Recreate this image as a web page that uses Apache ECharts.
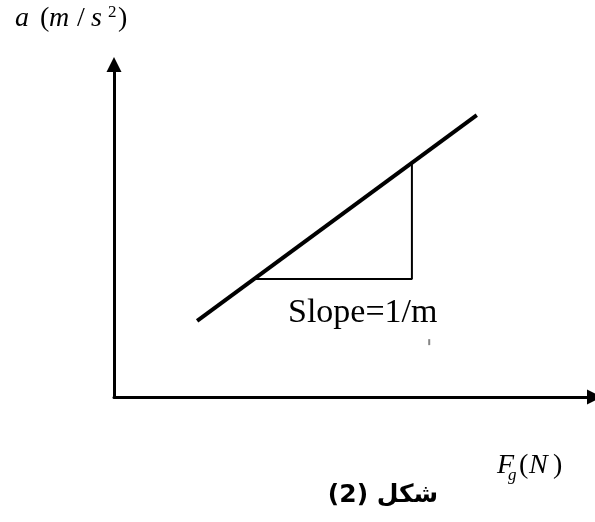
<!DOCTYPE html>
<html>
<head>
<meta charset="utf-8">
<script src="https://cdn.jsdelivr.net/npm/echarts@6/dist/echarts.min.js"></script>
<style>html,body{margin:0;padding:0;background:#fff}#c{width:595px;height:522px}</style>
</head>
<body>
<div id="c"></div>
<script>
// Conceptual data (axes without ticks, 0..10 units)
const lineX = [1.73, 7.55];
const lineY = [2.29, 8.48];
const triX = [2.92, 6.20, 6.20];
const triY = [3.55, 3.55, 7.04];
const markX = [6.56];
const markY = [1.65];
const slopeText = 'Slope=1/m';
const figCaption = '(2) شكل';

const chart = echarts.init(document.getElementById('c'), null, {renderer: 'canvas'});
const serif = '"Liberation Serif", "Times New Roman", serif';
function txt(s, x, y, size, italic, extra) {
  return Object.assign({
    type: 'text', x: x, y: y, silent: true,
    style: {text: s, fill: '#000', font: (italic ? 'italic ' : '') + size + 'px ' + serif,
            textAlign: 'left', textVerticalAlign: 'middle'}
  }, extra || {});
}
chart.setOption({
  animation: false,
  backgroundColor: '#fff',
  grid: {left: 114, right: 0.5, top: 64.5, bottom: 125, containLabel: false, outerBoundsMode: 'none'},
  xAxis: {
    type: 'value', min: 0, max: 10,
    axisLine: {show: true, symbol: ['none', 'triangle'], symbolSize: [15, 15],
               lineStyle: {color: '#000', width: 3}},
    axisTick: {show: false}, axisLabel: {show: false}, splitLine: {show: false}
  },
  yAxis: {
    type: 'value', min: 0, max: 10,
    axisLine: {show: true, symbol: ['none', 'triangle'], symbolSize: [15, 15],
               lineStyle: {color: '#000', width: 3}},
    axisTick: {show: false}, axisLabel: {show: false}, splitLine: {show: false}
  },
  series: [
    {type: 'line', data: lineX.map((x, i) => [x, lineY[i]]), showSymbol: false, symbol: 'none',
     lineStyle: {color: '#000', width: 4}, silent: true},
    {type: 'line', data: triX.map((x, i) => [x, triY[i]]), showSymbol: false, symbol: 'none',
     lineStyle: {color: '#000', width: 2}, silent: true},
    {type: 'scatter', data: markX.map((x, i) => [x, markY[i]]), symbol: 'rect', symbolSize: [2, 6],
     itemStyle: {color: '#666'}, silent: true}
  ],
  graphic: [
    txt('a', 15, 19, 28, true),
    txt('(', 40, 19, 28, false),
    txt('m', 49, 19, 28, true),
    txt('/', 77, 19, 28, false),
    txt('s', 91, 19, 28, true),
    txt('2', 108, 12.5, 17, false),
    txt(')', 118, 19, 28, false),
    txt('F', 497, 465.5, 28, true),
    txt('g', 508, 476, 17, true),
    txt('(', 519, 465.5, 28, false),
    txt('N', 529, 465.5, 28, true),
    txt(')', 553, 465.5, 28, false),
    txt(slopeText, 288, 313, 34, false),
    {type: 'text', x: 383, y: 495, silent: true,
     style: {text: figCaption, fill: '#000', font: 'bold 25px "DejaVu Sans", sans-serif',
             textAlign: 'center', textVerticalAlign: 'middle'}}
  ]
});
</script>
</body>
</html>
